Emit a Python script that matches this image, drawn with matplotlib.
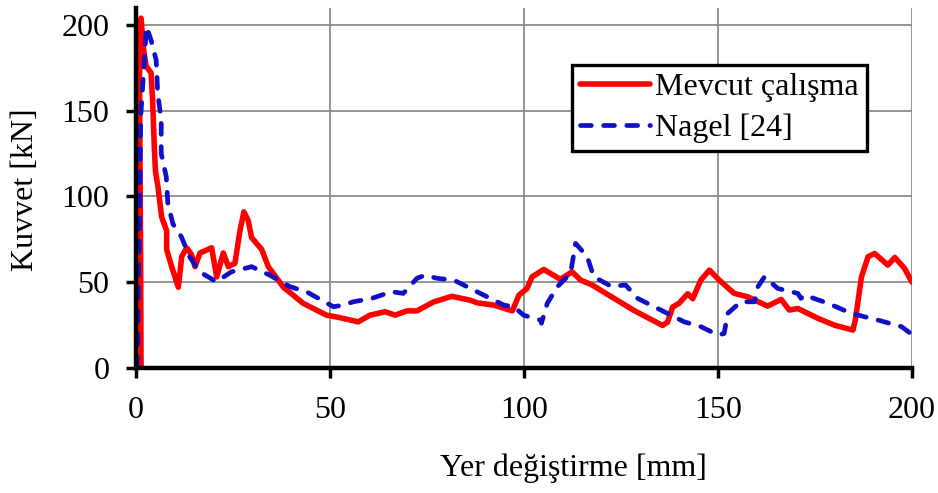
import numpy as np
import matplotlib.pyplot as plt

plt.rcParams['font.family'] = ['Liberation Serif', 'DejaVu Serif']

# Mevcut calisma (red)
x_mevcut = [1.3, 1.2, 1.0, 0.9, 1.3, 2.0, 2.6, 3.9, 4.3, 4.7, 5.0, 5.7, 6.6, 7.9, 7.9,
            9.2, 10.9, 11.8, 13.1, 14.3, 15.2, 16.5, 19.5, 20.8, 22.5, 23.8, 25.5, 26.8,
            27.8, 28.9, 29.8, 32.4, 34.1, 38.0, 43.1, 49.1, 52.0, 57.3, 60.3, 64.2, 66.8,
            69.8, 72.4, 76.7, 81.4, 86.2, 87.9, 92.2, 97.0, 98.7, 100.8, 102.1, 105.1,
            109.4, 112.4, 114.6, 117.6, 119.8, 128.4, 135.7, 137.0, 138.3, 140.0, 142.2,
            143.5, 145.6, 147.8, 150.3, 154.2, 157.7, 162.8, 166.3, 168.4, 170.6, 175.8,
            180.1, 184.8, 185.4, 187.0, 188.7, 190.4, 193.8, 195.6, 198.1, 200.0]
y_mevcut = [0, 60, 130, 170, 204, 185, 176, 172, 155, 130, 115, 105, 88, 80, 69,
            59, 47, 65, 70, 66, 59, 67, 70, 53, 67, 59, 61, 80,
            91, 86, 76, 69, 59, 47, 37.6, 30.7, 29.5, 26.8, 30.7, 32.7, 30.7,
            33.2, 33.2, 38.4, 41.7, 39.4, 37.9, 36.6, 33.2, 42.4, 46.3, 53.1, 57.4,
            51.6, 56, 51.2, 48.3, 45.2, 33.4, 24.7, 26.6, 35.4, 37.7, 43.2,
            40.3, 51.2, 57, 51.2, 43.4, 41.4, 36, 39.9, 33.7, 34.6, 28.8,
            24.8, 22, 27.8, 53.1, 64.8, 66.7, 59.9, 64.4, 58, 50]

# Nagel [24] (blue dashed)
x_nagel = [0.3, 0.6, 1.0, 1.2, 2.3, 2.7, 3.9, 5.2, 5.6, 6.5, 6.5, 7.8, 8.2, 9.5, 11.7,
           13.8, 16.4, 20.7, 24.6, 29.8, 34.5, 39.7, 44.0, 50.9, 53.4, 56.0, 60.8, 65.9,
           68.9, 72.4, 74.5, 77.6, 81.9, 86.2, 91.3, 94.8, 97.4, 99.9, 104.3, 104.5,
           106.0, 108.6, 112.0, 113.3, 116.3, 118.0, 120.5, 122.5, 126.2, 129.3, 137.0,
           141.3, 145.6, 150.0, 151.6, 152.5, 155.9, 159.4, 160.3, 162.0, 165.4, 170.6,
           171.4, 172.3, 178.4, 184.4, 191.3, 197.3, 200.0]
y_nagel = [0, 50, 98, 146, 185, 199, 191, 179.5, 160, 144.5, 125, 111.4, 96, 84, 76.4,
           64.8, 56, 50.2, 56, 59, 54, 47.3, 44.3, 35.6, 36.6, 38.5, 40.5, 44.4,
           43.4, 52.2, 54, 52.2, 51.2, 46.3, 40.5, 36.6, 35.6, 30.7, 27.8, 26,
           37.6, 47.3, 55, 72.6, 64.8, 53.1, 50, 47.5, 48.3, 40.5, 31.7,
           26.8, 24, 19.1, 20, 31.7, 38.5, 38.5, 47.3, 53.1, 46.3, 43.4,
           40.5, 42.4, 37.6, 31.7, 27.8, 24, 19.5]

x_ticks = [0, 50, 100, 150, 200]
y_ticks = [0, 50, 100, 150, 200]

fig = plt.figure(figsize=(9.38, 4.93), dpi=100)
ax = fig.add_axes([0.145, 0.254, 0.8272, 0.73])

ax.plot(x_mevcut, y_mevcut, color='#FF0000', lw=4.0, solid_joinstyle='round',
        solid_capstyle='round', label='Mevcut çalışma', zorder=3)
ax.plot(x_nagel, y_nagel, color='#1010C8', lw=3.4, dashes=(2.3, 2.6),
        dash_capstyle='round', label='Nagel [24]', zorder=4)

ax.set_xlim(0, 200)
ax.set_ylim(0, 210)
ax.set_xticks(x_ticks)
ax.set_yticks(y_ticks)
ax.grid(True, color='#8c8c8c', lw=1.3)
ax.set_axisbelow(True)

for s in ['top', 'right']:
    ax.spines[s].set_visible(False)
for s in ['left', 'bottom']:
    ax.spines[s].set_linewidth(3.2)
    ax.spines[s].set_zorder(5)

ax.tick_params(direction='out', length=7, width=2.5, labelsize=23, pad=12)
ax.tick_params(axis='x', pad=13)

fig.text(0.611, 0.051, 'Yer değiştirme [mm]', fontsize=23, ha='center', va='center')
fig.text(0.027, 0.615, 'Kuvvet [kN]', fontsize=23, ha='center', va='center',
         rotation=90)

leg = ax.legend(loc='upper left', bbox_to_anchor=(572 / 938, 1 - 65 / 493),
                bbox_transform=fig.transFigure, fontsize=23, frameon=True,
                fancybox=False, borderaxespad=0, borderpad=0.25, handlelength=2.2,
                handletextpad=0.15, labelspacing=0.35)
leg.get_frame().set_edgecolor('black')
leg.get_frame().set_linewidth(2.4)
leg.get_frame().set_alpha(1)

fig.savefig('out.png', dpi=100)
